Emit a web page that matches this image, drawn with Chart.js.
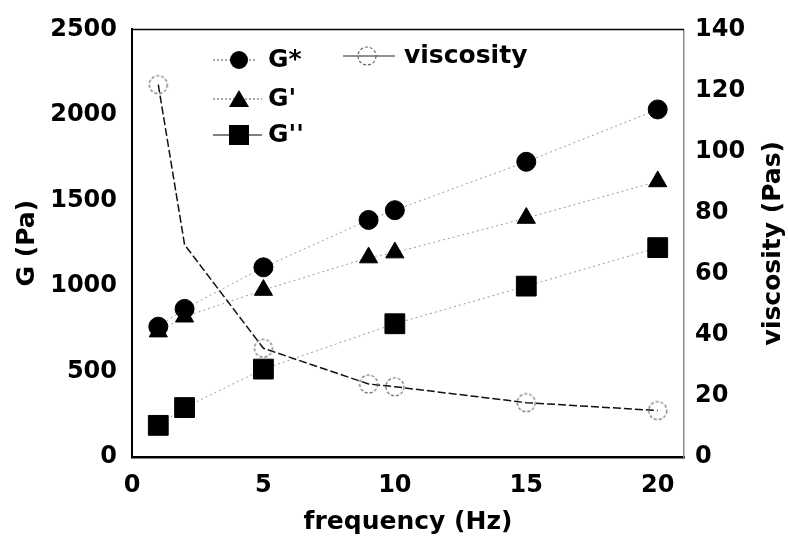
<!DOCTYPE html>
<html>
<head>
<meta charset="utf-8">
<script src="https://cdn.jsdelivr.net/npm/chart.js@4.4.0/dist/chart.umd.min.js"></script>
<style>
  html, body { margin: 0; padding: 0; background: #fff; }
  #wrap { width: 788px; height: 538px; }
</style>
</head>
<body>
<div id="wrap"><canvas id="myChart"></canvas></div>
<script>
// frequency sweep: moduli on the left axis, viscosity on the right
var freq = [1, 2, 5, 9, 10, 15, 20];
var freqLoss = [1, 2, 5, 10, 15, 20];
var gStar = [762, 866, 1109, 1386, 1443, 1726, 2032];
var gStorage = [733, 820, 976, 1166, 1195, 1397, 1611];
var gLoss = [185, 289, 514, 779, 999, 1224];
var viscosity = [121.9, 69.5, 35.6, 23.9, 23.0, 17.8, 15.2];
var viscosityMarks = [9, 0, 9, 9, 9, 9, 9];

var gTicks = [0, 500, 1000, 1500, 2000, 2500];
var viscTicks = [0, 20, 40, 60, 80, 100, 120, 140];
var freqTicks = [0, 5, 10, 15, 20];

var FONT = 'DejaVu Sans';
Chart.defaults.font.family = FONT;
Chart.defaults.color = '#000';

function pts(xs, ys) {
  return xs.map(function (x, i) { return { x: x, y: ys[i] }; });
}
function plain(v) { return String(v); }
function fixedTicks(list) {
  return function (s) { s.ticks = list.map(function (v) { return { value: v }; }); };
}

// open circle with a broken outline
function dashedCircle(r) {
  var c = document.createElement('canvas');
  c.width = c.height = 2 * r + 4;
  var g = c.getContext('2d');
  g.setLineDash([3, 2]);
  g.strokeStyle = '#666';
  g.lineWidth = 1.2;
  g.beginPath();
  g.arc(r + 2, r + 2, r, 0, Math.PI * 2);
  g.stroke();
  return c;
}
var openCircle = dashedCircle(9);

var dotted = { borderColor: '#9a9a9a', borderWidth: 1, borderDash: [2, 3] };

var frame = {
  id: 'frame',
  afterDraw: function (chart) {
    var ctx = chart.ctx, a = chart.chartArea;
    ctx.save();
    ctx.strokeStyle = '#000';
    ctx.lineWidth = 1.5;
    ctx.beginPath();
    ctx.moveTo(a.left, a.top);
    ctx.lineTo(a.right, a.top);
    ctx.stroke();

    // right axis title, reading upwards
    ctx.font = 'bold 25px ' + FONT;
    ctx.textAlign = 'center';
    ctx.textBaseline = 'middle';
    ctx.translate(773, (a.top + a.bottom) / 2);
    ctx.rotate(-Math.PI / 2);
    ctx.fillText('viscosity (Pas)', 0, 0);
    ctx.restore();

    // legend
    ctx.save();
    ctx.font = 'bold 25px ' + FONT;
    ctx.textAlign = 'left';
    ctx.textBaseline = 'middle';
    ctx.fillStyle = '#000';
    function seg(x1, x2, y, dash, color) {
      ctx.save();
      ctx.strokeStyle = color;
      ctx.lineWidth = 1.2;
      ctx.setLineDash(dash);
      ctx.beginPath();
      ctx.moveTo(x1, y);
      ctx.lineTo(x2, y);
      ctx.stroke();
      ctx.restore();
    }
    seg(213, 257, 60, [2, 2], '#555');
    ctx.beginPath(); ctx.arc(239, 60, 9, 0, Math.PI * 2); ctx.fill();
    ctx.fillText('G*', 268, 60);

    seg(213, 262, 99, [2, 2], '#555');
    ctx.beginPath();
    ctx.moveTo(239, 90); ctx.lineTo(249, 107); ctx.lineTo(229, 107); ctx.closePath();
    ctx.fill();
    ctx.fillText("G'", 268, 99);

    seg(213, 262, 135, [], '#000');
    ctx.fillRect(229, 125, 20, 20);
    ctx.fillText("G''", 268, 135);

    seg(343, 395, 56, [], '#222');
    ctx.drawImage(openCircle, 367 - openCircle.width / 2, 56 - openCircle.height / 2);
    ctx.fillText('viscosity', 404, 56);
    ctx.restore();
  }
};

new Chart('myChart', {
  type: 'scatter',
  data: {
    datasets: [
      {
        label: 'viscosity',
        data: pts(freq, viscosity),
        yAxisID: 'yV',
        showLine: true,
        borderColor: '#111',
        borderWidth: 1.5,
        borderDash: [8, 3],
        pointStyle: openCircle,
        pointRadius: viscosityMarks
      },
      Object.assign({
        label: 'G*',
        data: pts(freq, gStar),
        yAxisID: 'yG',
        showLine: true,
        pointStyle: 'circle',
        pointRadius: 9.5,
        pointBackgroundColor: '#000',
        pointBorderColor: '#000'
      }, dotted),
      Object.assign({
        label: "G'",
        data: pts(freq, gStorage),
        yAxisID: 'yG',
        showLine: true,
        pointStyle: 'triangle',
        pointRadius: 10.5,
        pointBackgroundColor: '#000',
        pointBorderColor: '#000'
      }, dotted),
      Object.assign({
        label: "G''",
        data: pts(freqLoss, gLoss),
        yAxisID: 'yG',
        showLine: true,
        pointStyle: 'rect',
        pointRadius: 14,
        pointBackgroundColor: '#000',
        pointBorderColor: '#000'
      }, dotted)
    ]
  },
  options: {
    responsive: true,
    maintainAspectRatio: false,
    animation: false,
    layout: { padding: { top: 24, left: 0, right: 0, bottom: 0 } },
    plugins: { legend: { display: false }, tooltip: { enabled: false } },
    scales: {
      x: {
        type: 'linear',
        min: 0,
        max: 21,
        afterFit: function (s) { s.height = 81; },
        afterBuildTicks: fixedTicks(freqTicks),
        grid: { display: false, drawTicks: false },
        border: { display: true, color: '#000', width: 2.5 },
        ticks: { font: { size: 24, weight: 'bold' }, padding: 14, autoSkip: false, maxRotation: 0, callback: plain },
        title: { display: true, text: 'frequency (Hz)', font: { size: 25, weight: 'bold' }, padding: { top: 0, bottom: 1 } }
      },
      yG: {
        type: 'linear',
        position: 'left',
        min: 0,
        max: 2500,
        afterFit: function (s) { s.width = 132; },
        afterBuildTicks: fixedTicks(gTicks),
        grid: { display: false, drawTicks: false },
        border: { display: true, color: '#000', width: 2 },
        ticks: { font: { size: 24, weight: 'bold' }, padding: 15, callback: plain },
        title: { display: true, text: 'G (Pa)', font: { size: 25, weight: 'bold' }, padding: { top: 12, bottom: 0 } }
      },
      yV: {
        type: 'linear',
        position: 'right',
        min: 0,
        max: 140,
        afterFit: function (s) { s.width = 104; },
        afterBuildTicks: fixedTicks(viscTicks),
        grid: { display: false, drawTicks: false },
        border: { display: true, color: '#8c8c8c', width: 1.5, dash: [2, 1] },
        ticks: { font: { size: 24, weight: 'bold' }, padding: 11, callback: plain }
      }
    }
  },
  plugins: [frame]
});
</script>
</body>
</html>
